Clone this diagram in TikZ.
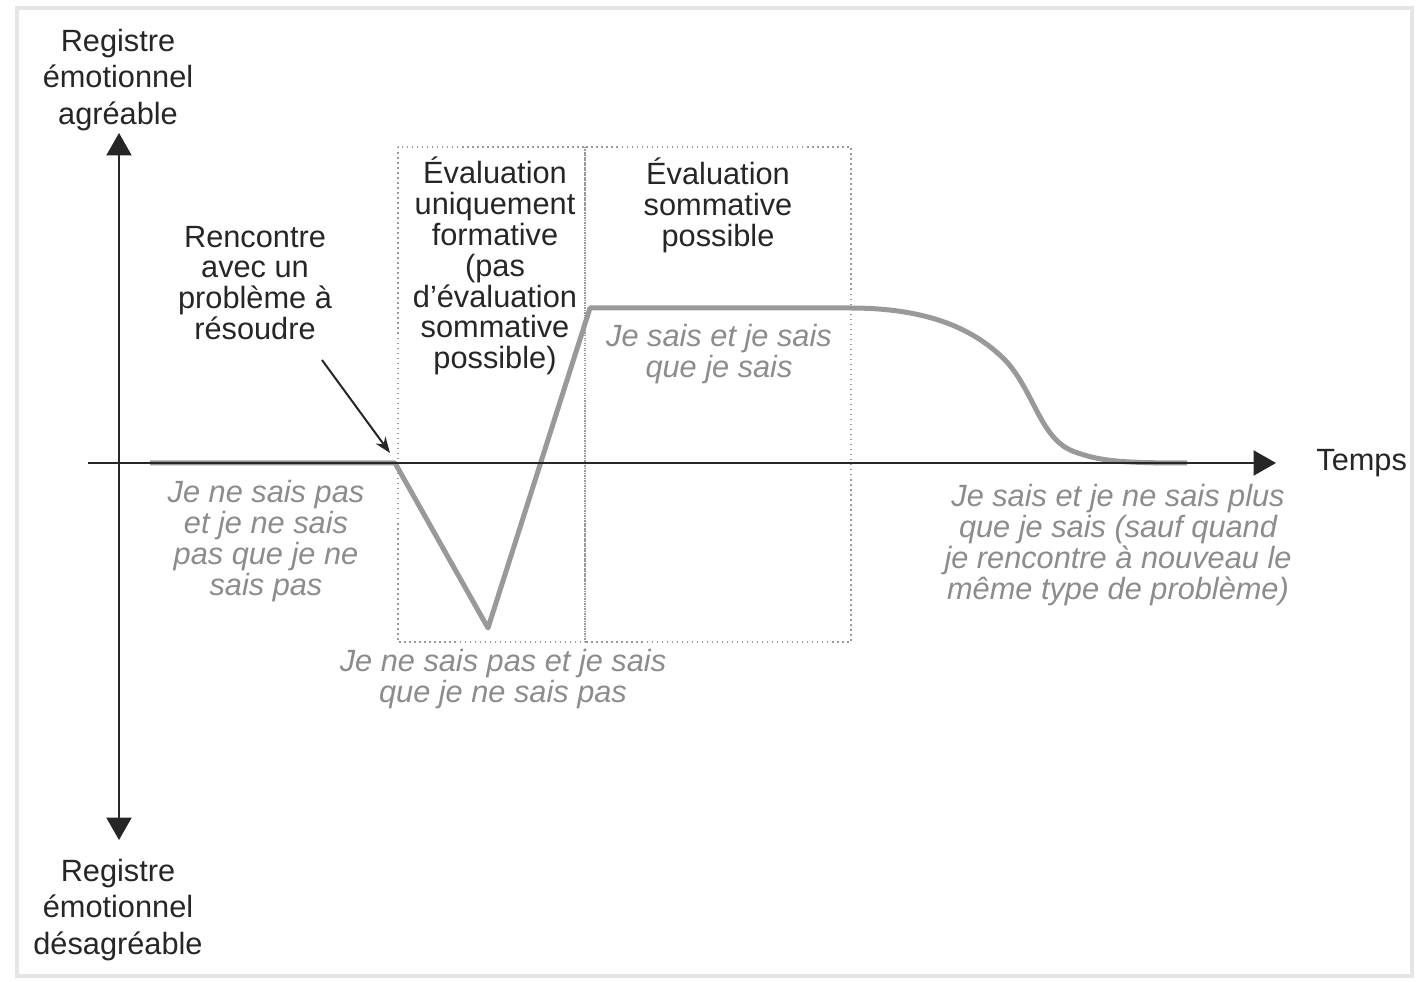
\documentclass[tikz,border=0pt]{standalone}
\usepackage{fontspec}
\setmainfont{Liberation Sans}
\usetikzlibrary{arrows.meta,positioning}

\tikzset{
  lbl/.style={align=center, text=black!85, inner sep=0pt, font=\fontsize{17.5}{17.6}\selectfont},
  pole/.style={lbl, font=\fontsize{17.5}{21}\selectfont},
  note/.style={lbl, text=black!45, font=\fontsize{17.5}{17.6}\selectfont\itshape},
  zone/.style={draw=black!40, dotted, line width=0.03cm},
  courbe/.style={draw=black!40, line width=0.1cm, line join=round},
  axe/.style={draw=black!85, line width=0.045cm},
  fleche/.style={draw=black!85, line width=0.04cm, -{Stealth[length=0.32cm,width=0.24cm]}}
}

\begin{document}
\begin{tikzpicture}[x=0.02cm, y=-0.02cm, >={Triangle[width=0.5cm,length=0.45cm]}]
\useasboundingbox (0,0) rectangle (1421,982);
\draw[black!10, line width=0.08cm] (17,8) rectangle (1412,976);

\coordinate (yhaut) at (119,133);
\coordinate (ybas) at (119,840);
\coordinate (xg) at (88,463);
\coordinate (xd) at (1276,463);
\coordinate (depart) at (322,360);
\coordinate (debut) at (395,463);

% zones d'evaluation
\draw[zone] (398,147) rectangle (585,642);
\draw[zone] (585,147) rectangle (851,642);

% courbe emotionnelle
\draw[courbe] (150,463) -- (debut) -- (488,628) -- (590,308) -- (850,308)
  .. controls (930,308) and (975,330) .. (1005,360)
  .. controls (1035,392) and (1040,440) .. (1075,452)
  .. controls (1100,461) and (1120,463) .. (1187,463);

% axes
\draw[axe,<->] (ybas) -- (yhaut);
\draw[axe,->] (xg) -- (xd);

\node[pole] (agreable) at (118,80) {Registre\\émotionnel\\agréable};
\node[pole] (desagreable) at (118,910) {Registre\\émotionnel\\désagréable};
\node[lbl, right=0.8cm of xd] (temps) {Temps};

\node[lbl] (rencontre) at (255,283) {Rencontre\\avec un\\problème à\\résoudre};
\draw[fleche] (depart) -- ([shift={(-5,-10)}]debut);

\node[lbl] (formative) at (495,266) {Évaluation\\uniquement\\formative\\(pas\\d'évaluation\\sommative\\possible)};
\node[lbl] (sommative) at (718,205) {Évaluation\\sommative\\possible};

\node[note] (nesaispas) at (266,541) {Je ne sais pas\\et je ne sais\\pas que je ne\\sais pas};
\node[note] (prise) at (503,679) {Je ne sais pas et je sais\\que je ne sais pas};
\node[note] (sait) at (719,354) {Je sais et je sais\\que je sais};
\node[note] (oubli) at (1118,545) {Je sais et je ne sais plus\\que je sais (sauf quand\\je rencontre à nouveau le\\même type de problème)};
\end{tikzpicture}
\end{document}
